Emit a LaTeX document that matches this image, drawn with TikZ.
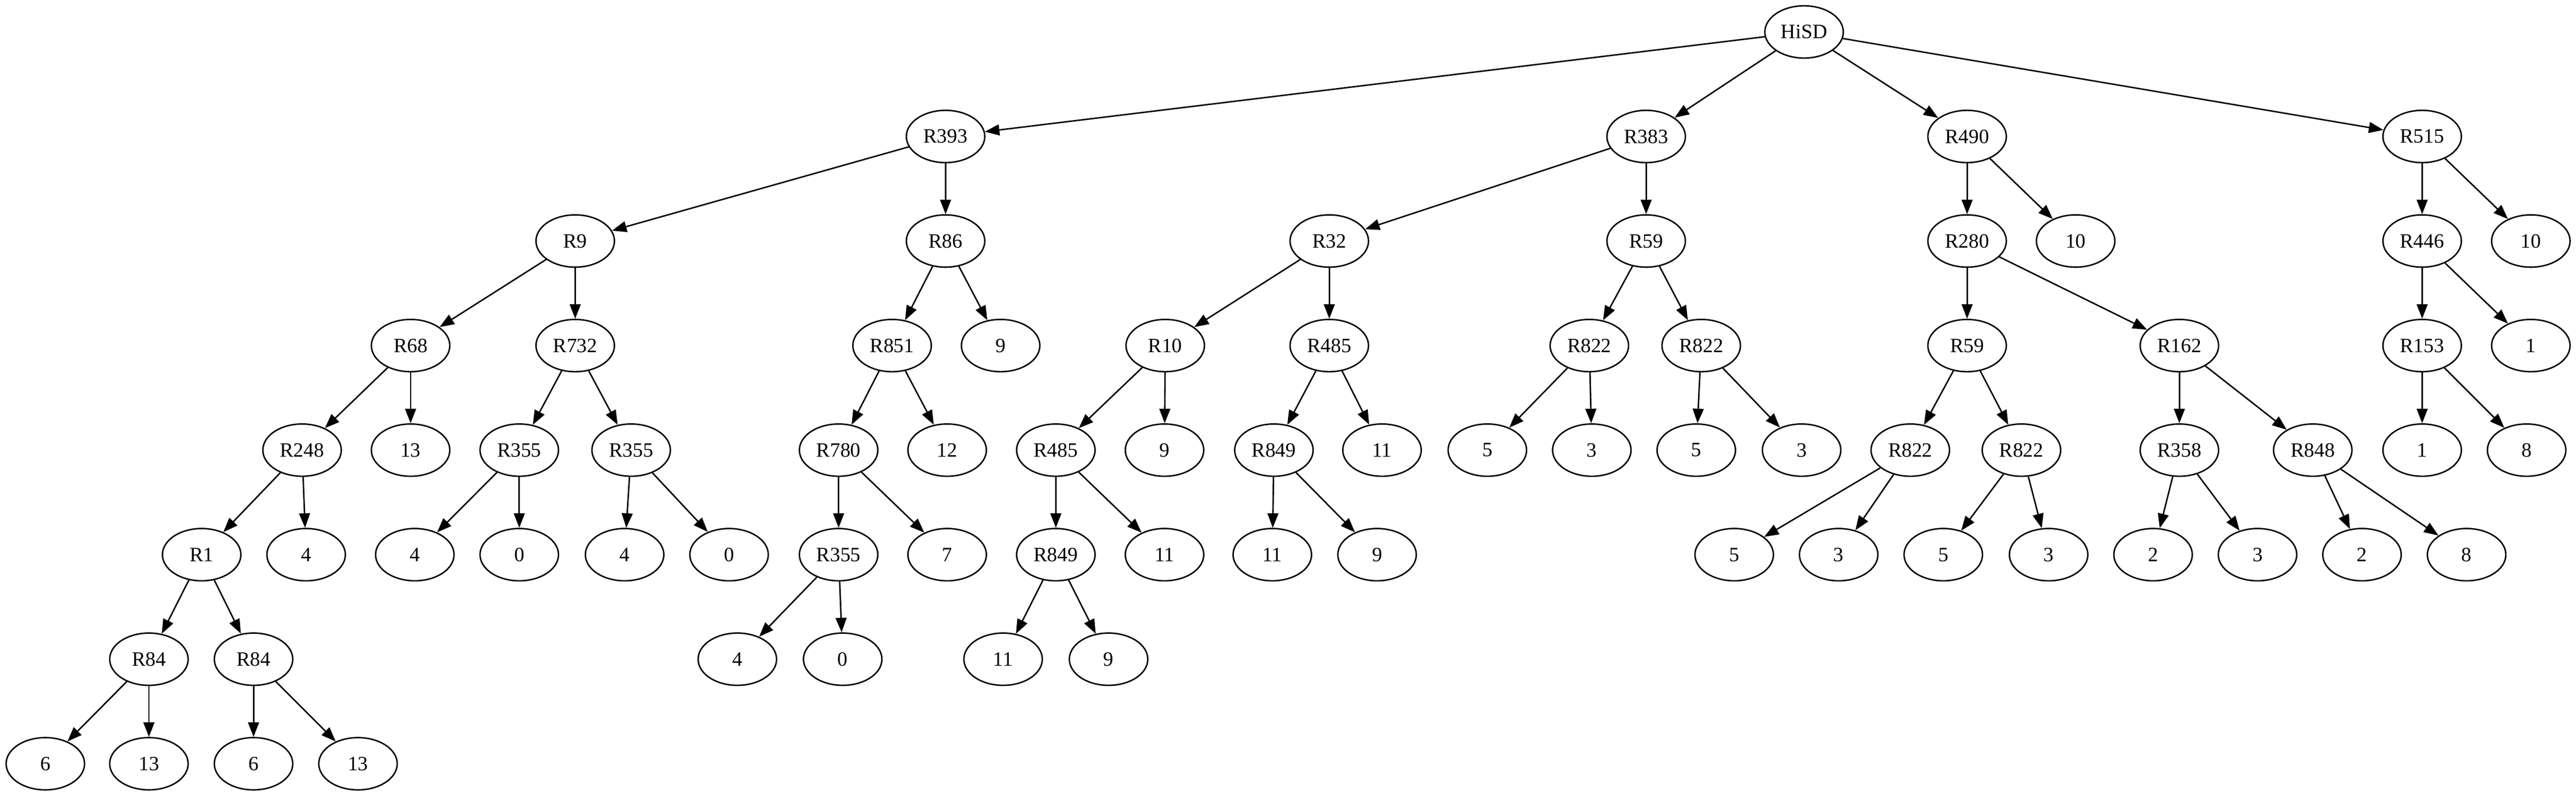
\documentclass[tikz,border=0pt]{standalone}
\usepackage{fontspec}
\setmainfont{Liberation Serif}
\usetikzlibrary{shapes.geometric,arrows.meta}
\tikzset{
  vtx/.style={draw, ellipse, minimum width=54pt, minimum height=36pt, inner sep=0pt, line width=1pt, font=\fontsize{14pt}{16pt}\selectfont},
  arr/.style={-{Triangle[length=10pt,width=7.5pt]}, line width=1pt}
}
\begin{document}
\begin{tikzpicture}
\useasboundingbox (0pt,0pt) rectangle (1773pt,-548pt);
% rank 0
\node[vtx] (hisd) at (1241.7pt,-22pt) {HiSD};
% rank 1
\node[vtx] (r393) at (650.8pt,-94pt) {R393};
\node[vtx] (r383) at (1133pt,-94pt) {R383};
\node[vtx] (r490) at (1353.9pt,-94pt) {R490};
\node[vtx] (r515) at (1667.1pt,-94pt) {R515};
% rank 2
\node[vtx] (r9) at (395.9pt,-166pt) {R9};
\node[vtx] (r86) at (650.8pt,-166pt) {R86};
\node[vtx] (r32) at (914.9pt,-166pt) {R32};
\node[vtx] (r59a) at (1133pt,-166pt) {R59};
\node[vtx] (r280) at (1353.9pt,-166pt) {R280};
\node[vtx] (t10a) at (1428.6pt,-166pt) {10};
\node[vtx] (r446) at (1667.1pt,-166pt) {R446};
\node[vtx] (t10b) at (1741.9pt,-166pt) {10};
% rank 3
\node[vtx] (r68) at (282.6pt,-238pt) {R68};
\node[vtx] (r732) at (395.9pt,-238pt) {R732};
\node[vtx] (r851) at (614pt,-238pt) {R851};
\node[vtx] (t9a) at (688.7pt,-238pt) {9};
\node[vtx] (r10) at (802pt,-238pt) {R10};
\node[vtx] (r485b) at (914.9pt,-238pt) {R485};
\node[vtx] (r822a) at (1093.9pt,-238pt) {R822};
\node[vtx] (r822b) at (1170.9pt,-238pt) {R822};
\node[vtx] (r59b) at (1353.9pt,-238pt) {R59};
\node[vtx] (r162) at (1500pt,-238pt) {R162};
\node[vtx] (r153) at (1667.1pt,-238pt) {R153};
\node[vtx] (t1a) at (1741.9pt,-238pt) {1};
% rank 4
\node[vtx] (r248) at (207.9pt,-310pt) {R248};
\node[vtx] (t13a) at (282.6pt,-310pt) {13};
\node[vtx] (r355a) at (357.4pt,-310pt) {R355};
\node[vtx] (r355b) at (434.4pt,-310pt) {R355};
\node[vtx] (r780) at (577.2pt,-310pt) {R780};
\node[vtx] (t12) at (651.9pt,-310pt) {12};
\node[vtx] (r485a) at (726.7pt,-310pt) {R485};
\node[vtx] (t9b) at (801.5pt,-310pt) {9};
\node[vtx] (r849b) at (876.8pt,-310pt) {R849};
\node[vtx] (t11a) at (951.2pt,-310pt) {11};
\node[vtx] (t5a) at (1023.7pt,-310pt) {5};
\node[vtx] (t3a) at (1095.6pt,-310pt) {3};
\node[vtx] (t5b) at (1167.5pt,-310pt) {5};
\node[vtx] (t3b) at (1240pt,-310pt) {3};
\node[vtx] (r822c) at (1314.8pt,-310pt) {R822};
\node[vtx] (r822d) at (1391.3pt,-310pt) {R822};
\node[vtx] (r358) at (1500pt,-310pt) {R358};
\node[vtx] (r848) at (1591.8pt,-310pt) {R848};
\node[vtx] (t1b) at (1667.1pt,-310pt) {1};
\node[vtx] (t8a) at (1739pt,-310pt) {8};
% rank 5
\node[vtx] (r1) at (138.8pt,-382pt) {R1};
\node[vtx] (t4a) at (210.7pt,-382pt) {4};
\node[vtx] (t4b) at (285.5pt,-382pt) {4};
\node[vtx] (t0a) at (357.4pt,-382pt) {0};
\node[vtx] (t4c) at (429.9pt,-382pt) {4};
\node[vtx] (t0b) at (501.8pt,-382pt) {0};
\node[vtx] (r355c) at (577.2pt,-382pt) {R355};
\node[vtx] (t7) at (651.9pt,-382pt) {7};
\node[vtx] (r849a) at (726.7pt,-382pt) {R849};
\node[vtx] (t11b) at (801.5pt,-382pt) {11};
\node[vtx] (t11c) at (875.7pt,-382pt) {11};
\node[vtx] (t9c) at (947.8pt,-382pt) {9};
\node[vtx] (t5c) at (1193.6pt,-382pt) {5};
\node[vtx] (t3c) at (1265.5pt,-382pt) {3};
\node[vtx] (t5d) at (1337.5pt,-382pt) {5};
\node[vtx] (t3d) at (1410pt,-382pt) {3};
\node[vtx] (t2a) at (1481.9pt,-382pt) {2};
\node[vtx] (t3e) at (1553.8pt,-382pt) {3};
\node[vtx] (t2b) at (1625.7pt,-382pt) {2};
\node[vtx] (t8b) at (1697.7pt,-382pt) {8};
% rank 6
\node[vtx] (r84a) at (102.5pt,-454pt) {R84};
\node[vtx] (r84b) at (174.5pt,-454pt) {R84};
\node[vtx] (t4d) at (507.5pt,-454pt) {4};
\node[vtx] (t0c) at (580pt,-454pt) {0};
\node[vtx] (t11d) at (690.4pt,-454pt) {11};
\node[vtx] (t9d) at (763pt,-454pt) {9};
% rank 7
\node[vtx] (t6a) at (31.2pt,-526pt) {6};
\node[vtx] (t13b) at (102.5pt,-526pt) {13};
\node[vtx] (t6b) at (174.5pt,-526pt) {6};
\node[vtx] (t13c) at (246.4pt,-526pt) {13};
% edges
\foreach \a/\b in {hisd/r393, hisd/r383, hisd/r490, hisd/r515,
  r393/r9, r393/r86, r9/r68, r9/r732, r68/r248, r68/t13a, r248/r1, r248/t4a,
  r1/r84a, r1/r84b, r84a/t6a, r84a/t13b, r84b/t6b, r84b/t13c,
  r732/r355a, r732/r355b, r355a/t4b, r355a/t0a, r355b/t4c, r355b/t0b,
  r86/r851, r86/t9a, r851/r780, r851/t12, r780/r355c, r780/t7, r355c/t4d, r355c/t0c,
  r383/r32, r383/r59a, r32/r10, r32/r485b, r10/r485a, r10/t9b,
  r485a/r849a, r485a/t11b, r849a/t11d, r849a/t9d,
  r485b/r849b, r485b/t11a, r849b/t11c, r849b/t9c,
  r59a/r822a, r59a/r822b, r822a/t5a, r822a/t3a, r822b/t5b, r822b/t3b,
  r490/r280, r490/t10a, r280/r59b, r280/r162, r59b/r822c, r59b/r822d,
  r822c/t5c, r822c/t3c, r822d/t5d, r822d/t3d,
  r162/r358, r162/r848, r358/t2a, r358/t3e, r848/t2b, r848/t8b,
  r515/r446, r515/t10b, r446/r153, r446/t1a, r153/t1b, r153/t8a}
  \draw[arr] (\a) -- (\b);
\end{tikzpicture}
\end{document}
